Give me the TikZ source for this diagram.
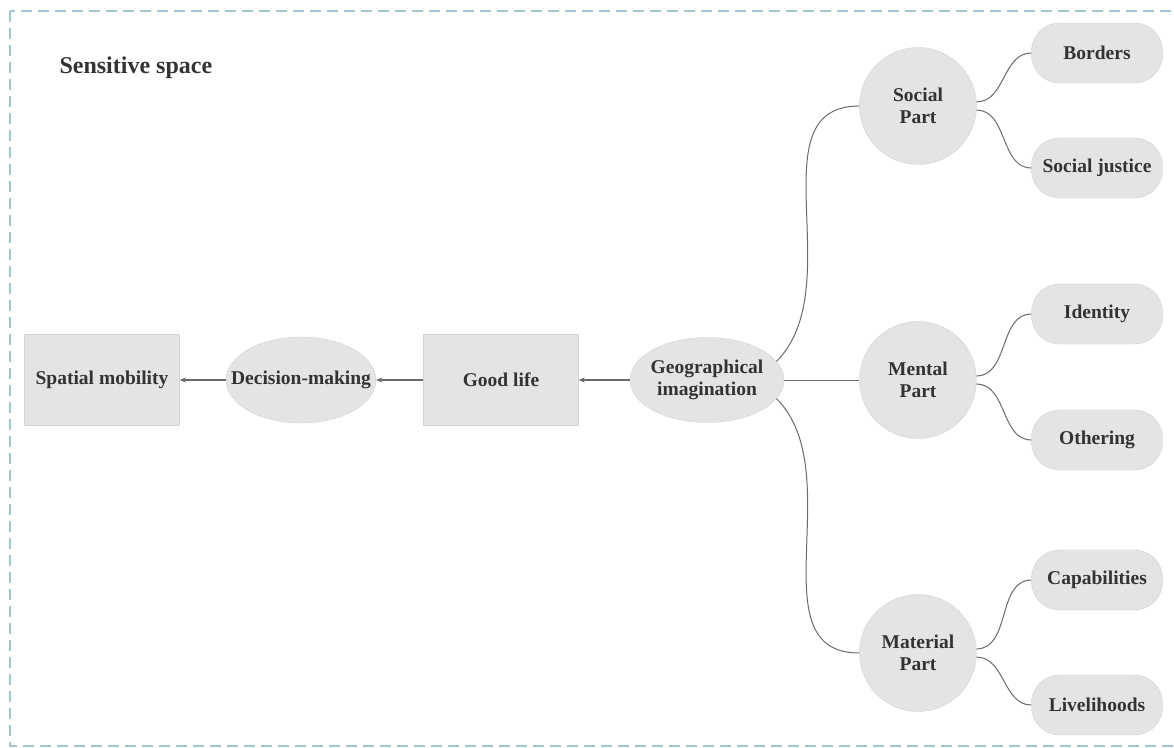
\documentclass[tikz,border=0pt]{standalone}
\usepackage{fontspec}
\setmainfont{Liberation Serif}
\usetikzlibrary{arrows.meta,positioning,shapes.geometric}
\definecolor{nodegray}{HTML}{E4E4E4}
\definecolor{edgegray}{HTML}{D2D2D2}
\definecolor{linegray}{HTML}{6A6A6A}
\definecolor{textgray}{HTML}{333333}
\definecolor{framecol}{HTML}{A3C6D0}
\newcommand{\zerowd}[1]{\makebox[0pt]{#1}}

\begin{document}
\begin{tikzpicture}[x=1pt, y=-1pt,
  base/.style={draw=edgegray, fill=nodegray, text=textgray, inner sep=0pt,
               font=\bfseries\fontsize{19.5}{22}\selectfont, align=center},
  box/.style={base, minimum width=155pt, minimum height=91pt},
  oval/.style={base, ellipse, minimum width=150pt, minimum height=86pt},
  part/.style={base, circle, minimum size=117pt},
  leaf/.style={base, rounded corners=28pt, minimum width=131pt, minimum height=60pt},
  arr/.style={-{Stealth[length=6pt, width=5pt]}, linegray, line width=1.2pt},
  link/.style={linegray, line width=1pt},
]
\useasboundingbox (0,0) rectangle (1174,747);
% frame
\draw[framecol, line width=2.5pt, dash pattern=on 11pt off 6pt] (10,11) rectangle (1190,746);
\node[anchor=west, text=textgray, font=\bfseries\fontsize{24}{28}\selectfont] (title) at (56,68) {Sensitive space};

% main chain
\node[box] (mobility) at (102,380) {Spatial mobility};
\node[oval] (decision) at (301,380) {\zerowd{Decision-making}};
\node[box] (goodlife) at (501,380) {Good life};
\node[oval, minimum width=154pt, minimum height=85pt] (geo) at (707,380) {\zerowd{Geographical}\\\zerowd{imagination}};
\draw[arr] (goodlife) -- (decision);
\draw[arr] (decision) -- (mobility);
\draw[arr] (geo) -- (goodlife);

% parts
\foreach \name/\y/\txt in {social/106/Social\\Part, mental/380/Mental\\Part, material/653/Material\\Part} {
  \node[part] (\name) at (918,\y) {\txt};
}
\draw[link] (geo.15) to[out=45, in=180] (social.west);
\draw[link] (geo) -- (mental);
\draw[link] (geo.-15) to[out=-45, in=180] (material.west);

% leaves
\foreach \name/\y/\txt/\parent/\ang in {borders/53/Borders/social/4, justice/168/Social justice/social/-4,
    identity/314/Identity/mental/4, othering/440/Othering/mental/-4,
    capab/580/Capabilities/material/4, liveli/705/Livelihoods/material/-4} {
  \node[leaf] (\name) at (1097,\y) {\txt};
  \draw[link] (\parent.\ang) to[out=0, in=180] (\name.west);
}
\end{tikzpicture}
\end{document}
